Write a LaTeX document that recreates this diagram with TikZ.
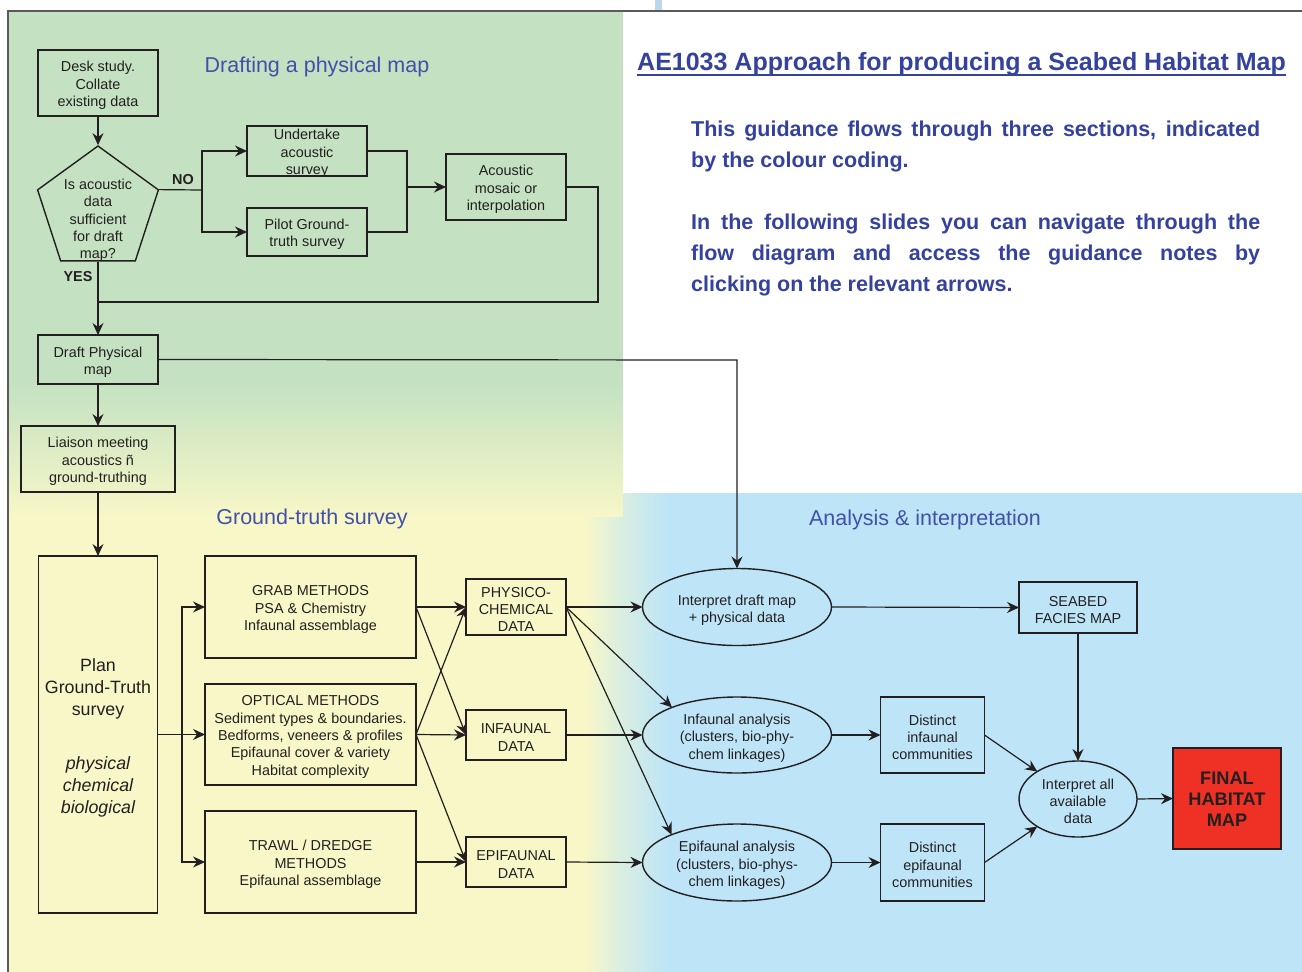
\documentclass[tikz,border=0pt]{standalone}
\usepackage{fontspec}
\setmainfont{Liberation Sans}
\usetikzlibrary{arrows.meta,shapes.geometric,calc}
\definecolor{greenc}{RGB}{196,226,194}
\definecolor{yellowc}{RGB}{248,247,200}
\definecolor{bluec}{RGB}{190,229,247}
\definecolor{ink}{RGB}{35,31,32}
\definecolor{secblue}{RGB}{66,80,170}
\definecolor{titleblue}{RGB}{52,66,158}
\definecolor{redc}{RGB}{238,49,36}
\definecolor{tabblue}{RGB}{189,215,238}
\definecolor{framec}{RGB}{90,90,90}
\newcommand\boxfont{\fontsize{14.4}{17.3}\selectfont}
\begin{document}
\begin{tikzpicture}[x=1pt,y=-1pt,
  >={Stealth[length=12pt,width=11pt,inset=4pt]},
  conn/.style={draw=ink,line width=1.2pt},
  arr/.style={conn,->},
  box/.style={draw=ink,line width=1.4pt,inner sep=0pt,outer sep=0pt},
  ell/.style={box,ellipse},
  txtlbl/.style={align=center,text=ink,font=\boxfont,inner sep=0pt,yshift=-2.5pt},
  tx/.style={label={[txtlbl]center:{#1}}},
  txe/.style={label={[txtlbl,yshift=-0.5pt]center:{#1}}},
  lab/.style={text=ink,font=\fontsize{14.4}{17}\selectfont\bfseries,inner sep=0pt},
  sec/.style={text=secblue,font=\fontsize{21.5}{26}\selectfont,inner sep=0pt,anchor=base},
  bodyl/.style={text=titleblue,font=\fontsize{21.5}{26}\selectfont\bfseries,inner sep=0pt,anchor=base west},
]
\useasboundingbox (0,0) rectangle (1302,972);
% backgrounds
\fill[greenc] (8,11) rectangle (623,386);
\shade[top color=greenc,bottom color=yellowc] (8,385) rectangle (623,518);
\fill[yellowc] (8,517) rectangle (586,972);
\shade[left color=yellowc,right color=yellowc!45!bluec] (585,517) rectangle (624,972);
\fill[bluec] (664,493) rectangle (1302,972);
\shade[left color=yellowc!45!bluec,right color=bluec] (623.5,493) rectangle (665,972);
\draw[framec,line width=1.5pt] (8,972) -- (8,11) -- (1302,11);
\fill[tabblue] (655,0) rectangle (662,10);

% title and text
\node[text=titleblue,font=\fontsize{25}{30}\selectfont\bfseries,inner sep=0pt,anchor=base west] (title) at (637,70) {AE1033 Approach for producing a Seabed Habitat Map};
\draw[titleblue,line width=2pt] ($(title.base west)+(0,4.5)$) -- ($(title.base east)+(0,4.5)$);
\node[bodyl] (body1) at (691,136) {\makebox[569pt][s]{This guidance flows through three sections, indicated}};
\node[bodyl] (body2) at (691,167) {by the colour coding.};
\node[bodyl] (body3) at (691,229) {\makebox[569pt][s]{In the following slides you can navigate through the}};
\node[bodyl] (body4) at (691,260) {\makebox[569pt][s]{flow diagram and access the guidance notes by}};
\node[bodyl] (body5) at (691,291) {clicking on the relevant arrows.};

% section titles
\node[sec] (sec1) at (317,72) {Drafting a physical map};
\node[sec] (sec2) at (312,524) {Ground-truth survey};
\node[sec] (sec3) at (925,525) {Analysis \& interpretation};

% drafting section
\node[box,minimum width=120pt,minimum height=66pt,tx={Desk study.\\Collate\\existing data}] (desk) at (98,83) {};
\node[draw=ink,line width=1.4pt,regular polygon,regular polygon sides=5,minimum size=127pt,inner sep=0pt] (pent) at (98,209.5) {};
\node[align=center,text=ink,font=\boxfont,inner sep=0pt] (pentxt) at (98,220.5) {Is acoustic\\data\\sufficient\\for draft\\map?};
\node[lab] (nolab) at (183,179.5) {NO};
\node[lab] (yeslab) at (78,276.5) {YES};
\node[box,minimum width=120pt,minimum height=50pt,tx={Undertake\\acoustic\\survey}] (und) at (307,151) {};
\node[box,minimum width=120pt,minimum height=48pt,tx={Pilot Ground-\\truth survey}] (pilot) at (307,232) {};
\node[box,minimum width=120pt,minimum height=66pt,tx={Acoustic\\mosaic or\\interpolation}] (acou) at (506,187) {};
\node[box,minimum width=120pt,minimum height=49pt,tx={Draft Physical\\map}] (draft) at (98,359.5) {};
\node[box,minimum width=154pt,minimum height=66pt,tx={Liaison meeting\\acoustics ñ\\ground-truthing}] (liaison) at (98,459) {};

% ground truth section
\node[box,minimum width=119pt,minimum height=357pt,
  label={[txtlbl,yshift=-0.5pt,font=\fontsize{17.8}{22}\selectfont]center:{Plan\\Ground-Truth\\survey\\[32pt]\itshape physical\\\itshape chemical\\\itshape biological}}] (plan) at (98,734.5) {};
\node[box,minimum width=211pt,minimum height=102pt,tx={GRAB METHODS\\PSA \& Chemistry\\Infaunal assemblage}] (grab) at (310.5,607) {};
\node[box,minimum width=211pt,minimum height=101pt,tx={OPTICAL METHODS\\Sediment types \& boundaries.\\Bedforms, veneers \& profiles\\Epifaunal cover \& variety\\Habitat complexity}] (opt) at (310.5,734.5) {};
\node[box,minimum width=211pt,minimum height=102pt,tx={TRAWL / DREDGE\\METHODS\\Epifaunal assemblage}] (trawl) at (310.5,862) {};
\node[box,minimum width=100pt,minimum height=56pt,tx={PHYSICO-\\CHEMICAL\\DATA}] (phys) at (516,607) {};
\node[box,minimum width=100pt,minimum height=50pt,tx={INFAUNAL\\DATA}] (inf) at (516,735) {};
\node[box,minimum width=100pt,minimum height=50pt,tx={EPIFAUNAL\\DATA}] (epi) at (516,862) {};

% analysis section
\node[ell,minimum width=189pt,minimum height=77pt,txe={Interpret draft map\\+ physical data}] (e1) at (737,607) {};
\node[ell,minimum width=189pt,minimum height=76pt,txe={Infaunal analysis\\(clusters, bio-phy-\\chem linkages)}] (e2) at (737,735) {};
\node[ell,minimum width=189pt,minimum height=77pt,txe={Epifaunal analysis\\(clusters, bio-phys-\\chem linkages)}] (e3) at (737,862.5) {};
\node[box,minimum width=118pt,minimum height=51pt,tx={SEABED\\FACIES MAP}] (seabed) at (1078,607.5) {};
\node[box,minimum width=104pt,minimum height=76pt,tx={Distinct\\infaunal\\communities}] (dinf) at (932.5,735) {};
\node[box,minimum width=104pt,minimum height=77pt,tx={Distinct\\epifaunal\\communities}] (depi) at (932.5,862.5) {};
\node[ell,minimum width=118pt,minimum height=76pt,tx={Interpret all\\available\\data}] (eall) at (1078,799) {};
\node[box,fill=redc,minimum width=108pt,minimum height=101pt,
  label={[txtlbl,yshift=1.5pt,font=\fontsize{18.2}{21}\selectfont\bfseries]center:{FINAL\\HABITAT\\MAP}}] (final) at (1227,798.5) {};

% connectors: drafting
\draw[arr] (desk.south) -- (pent.corner 1);
\coordinate (nosplit) at (202,190);
\draw[conn] (pent.corner 5) -- (nosplit);
\draw[arr] (nosplit) |- (und.west);
\draw[arr] (nosplit) |- (pilot.west);
\coordinate (join1) at (407,187);
\draw[conn] (und.east) -| (join1);
\draw[conn] (pilot.east) -| (join1);
\draw[arr] (join1) -- (acou.west);
\coordinate (loopr) at (598,302);
\coordinate (loopl) at (98,302);
\draw[conn] (acou.east) -| (loopr) -- (loopl);
\draw[arr] (pent.side 3) -- (draft.north);
\draw[arr] (draft.south) -- (liaison.north);
\coordinate (dcorner) at (737,360);
\draw[arr] (draft.east) -- (dcorner) -- (e1.north);
\draw[arr] (liaison.south) -- (plan.north);

% connectors: ground truth
\coordinate (psplit) at (182,734.5);
\draw[conn] (plan.east) -- (psplit);
\draw[arr] (psplit) |- (grab.west);
\draw[arr] (psplit) -- (opt.west);
\draw[arr] (psplit) |- (trawl.west);
\draw[arr] (grab.east) -- (phys.west);
\draw[arr] (grab.east) -- (inf.west);
\draw[arr] (opt.east) -- (phys.west);
\draw[arr] (opt.east) -- (inf.west);
\draw[arr] (opt.east) -- (epi.west);
\draw[arr] (trawl.east) -- (epi.west);

% connectors: analysis
\draw[arr] (phys.east) -- (e1.west);
\draw[arr] (phys.east) -- (e2.157);
\draw[arr] (phys.east) -- (e3.157);
\draw[arr] (inf.east) -- (e2.west);
\draw[arr] (epi.east) -- (e3.west);
\draw[arr] (e1.east) -- (seabed.west);
\draw[arr] (e2.east) -- (dinf.west);
\draw[arr] (e3.east) -- (depi.west);
\draw[arr] (dinf.east) -- (eall.146);
\draw[arr] (depi.east) -- (eall.214);
\draw[arr] (seabed.south) -- (eall.north);
\draw[arr] (eall.east) -- (final.west);
\end{tikzpicture}
\end{document}
